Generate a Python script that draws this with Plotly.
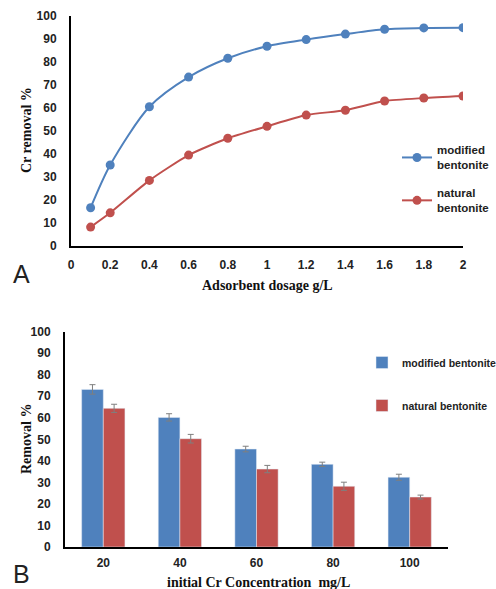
import plotly.graph_objects as go

# ---- Panel A data ----
dosage = [0.1, 0.2, 0.4, 0.6, 0.8, 1.0, 1.2, 1.4, 1.6, 1.8, 2.0]
modified_A = [16.5, 35.1, 60.4, 73.3, 81.5, 86.7, 89.6, 92.0, 94.1, 94.7, 94.8]
natural_A = [8.1, 14.3, 28.4, 39.4, 46.7, 51.9, 56.8, 58.9, 62.9, 64.2, 65.1]
xticks_A = [0, 0.2, 0.4, 0.6, 0.8, 1, 1.2, 1.4, 1.6, 1.8, 2]
xticktext_A = ["0", "0.2", "0.4", "0.6", "0.8", "1", "1.2", "1.4", "1.6", "1.8", "2"]

# ---- Panel B data ----
conc = ["20", "40", "60", "80", "100"]
modified_B = [73.2, 60.2, 45.5, 38.4, 32.4]
natural_B = [64.4, 50.3, 36.2, 28.2, 23.2]
modified_B_err = [2.2, 1.7, 1.3, 1.0, 1.4]
natural_B_err = [1.9, 2.0, 1.7, 1.9, 0.9]

BLUE = "#4F81BD"
RED = "#C0504D"
W, H = 496, 589

fig = go.Figure()

fig.add_trace(go.Scatter(
    x=dosage, y=modified_A, name="modified<br>bentonite", mode="lines+markers",
    line=dict(color=BLUE, width=2, shape="spline", smoothing=0.8),
    marker=dict(color=BLUE, size=9), xaxis="x", yaxis="y",
    legend="legend", legendgroup="a1"))
fig.add_trace(go.Scatter(
    x=dosage, y=natural_A, name="natural<br>bentonite", mode="lines+markers",
    line=dict(color=RED, width=2, shape="spline", smoothing=0.6),
    marker=dict(color=RED, size=9), xaxis="x", yaxis="y",
    legend="legend", legendgroup="a2"))

fig.add_trace(go.Bar(
    x=conc, y=modified_B, name="modified bentonite", marker=dict(color=BLUE),
    error_y=dict(type="data", array=modified_B_err, color="#7F7F7F", thickness=1, width=3),
    xaxis="x2", yaxis="y2", legend="legend2", legendgroup="b1"))
fig.add_trace(go.Bar(
    x=conc, y=natural_B, name="natural bentonite", marker=dict(color=RED),
    error_y=dict(type="data", array=natural_B_err, color="#7F7F7F", thickness=1, width=3),
    xaxis="x2", yaxis="y2", legend="legend2", legendgroup="b2"))

def px(v):
    return v / W

def py(v):
    return 1 - v / H

SANS = "Liberation Sans"
tickfont = dict(family=SANS, size=12, color="#222222", weight="bold")
axis_common = dict(showgrid=False, zeroline=False, showline=True, linecolor="#000000",
                   linewidth=2, ticks="", tickfont=tickfont, automargin=False)

fig.update_layout(
    width=W, height=H, margin=dict(l=0, r=0, t=0, b=0, autoexpand=False),
    paper_bgcolor="white", plot_bgcolor="white",
    barmode="group", bargap=0.435, bargroupgap=0,
    xaxis=dict(domain=[px(71), px(463)], range=[0, 2], tickvals=xticks_A, ticktext=xticktext_A,
               anchor="y", ticklabelstandoff=7, **axis_common),
    yaxis=dict(domain=[py(245.7), py(15.7)], range=[0, 100], dtick=10, anchor="x",
               ticklabelstandoff=10, **axis_common),
    xaxis2=dict(domain=[px(65), px(448)], anchor="y2", ticklabelstandoff=4, **axis_common),
    yaxis2=dict(domain=[py(547), py(331.7)], range=[0, 100], dtick=10, anchor="x2",
                ticklabelstandoff=10, **axis_common),
    legend=dict(x=px(397), y=py(136), xanchor="left", yanchor="top",
                font=dict(family=SANS, size=11.5, color="#222222", weight="bold"),
                bgcolor="rgba(0,0,0,0)", tracegroupgap=10, itemwidth=30, borderwidth=0),
    legend2=dict(x=px(362), y=py(348), xanchor="left", yanchor="top",
                 font=dict(family=SANS, size=10.5, color="#222222", weight="bold"),
                 bgcolor="rgba(0,0,0,0)", tracegroupgap=24, itemwidth=30, borderwidth=0),
    showlegend=True,
)

serif = dict(family="Liberation Serif", size=14, color="#111111", weight="bold")
annos = [
    dict(text="Cr removal %", x=px(27), y=py(130), textangle=-90, font=serif),
    dict(text="Adsorbent dosage g/L", x=px(267), y=py(285), font=serif),
    dict(text="A", x=px(21), y=py(274), font=dict(family=SANS, size=25, color="#222222")),
    dict(text="Removal %", x=px(26), y=py(439), textangle=-90, font=serif),
    dict(text="initial Cr Concentration  mg/L", x=px(258), y=py(582), font=serif),
    dict(text="B", x=px(21), y=py(574), font=dict(family=SANS, size=25, color="#222222")),
]
for a in annos:
    fig.add_annotation(xref="paper", yref="paper", showarrow=False,
                       xanchor="center", yanchor="middle", **a)

fig.write_html("out.html", config={"displayModeBar": False},
               post_script="document.body.style.margin='0';document.body.style.padding='0';")
